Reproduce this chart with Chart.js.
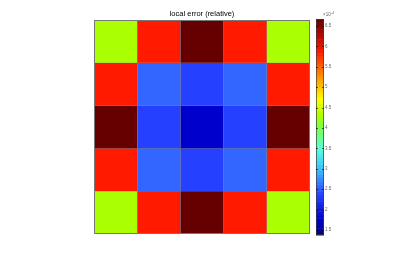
<!DOCTYPE html>
<html>
<head>
<meta charset="utf-8">
<script src="https://cdn.jsdelivr.net/npm/chart.js@4.4.1/dist/chart.umd.min.js"></script>
<style>
html, body { margin: 0; padding: 0; background: #fff; }
#wrap { position: relative; width: 409px; height: 263px; }
</style>
</head>
<body>
<div id="wrap"><canvas id="errChart" width="409" height="263"></canvas></div>
<script>
// local relative error (x 1e-4), rows listed top to bottom
var colLabels = ['1', '2', '3', '4', '5'];
var row1 = [4.3, 5.86, 6.65, 5.86, 4.3];
var row2 = [5.86, 2.58, 2.38, 2.58, 5.86];
var row3 = [6.65, 2.38, 1.79, 2.38, 6.65];
var row4 = [5.86, 2.58, 2.38, 2.58, 5.86];
var row5 = [4.3, 5.86, 6.65, 5.86, 4.3];
var rows = [row1, row2, row3, row4, row5];

// colour axis
var cMin = 1.4;
var cMax = 6.65;
var cStep = 0.5;
var cExponent = '-4';

// jet-like palette, [position 0..1, r, g, b]
var palette = [
	[0.000, 0, 0, 130],
	[0.074, 0, 0, 205],
	[0.187, 38, 64, 255],
	[0.225, 51, 102, 255],
	[0.305, 60, 190, 255],
	[0.400, 90, 255, 220],
	[0.495, 120, 255, 80],
	[0.552, 170, 255, 0],
	[0.629, 255, 255, 0],
	[0.850, 255, 26, 0],
	[1.000, 102, 0, 0]
];

function colormap(t) {
	t = Math.max(0, Math.min(1, t));
	for (var i = 1; i < palette.length; i++) {
		if (t <= palette[i][0]) {
			var a = palette[i - 1], b = palette[i];
			var f = (t - a[0]) / (b[0] - a[0]);
			return 'rgb(' + Math.round(a[1] + (b[1] - a[1]) * f) + ',' +
				Math.round(a[2] + (b[2] - a[2]) * f) + ',' +
				Math.round(a[3] + (b[3] - a[3]) * f) + ')';
		}
	}
	var l = palette[palette.length - 1];
	return 'rgb(' + l[1] + ',' + l[2] + ',' + l[3] + ')';
}

function valueColor(v) {
	return colormap((v - cMin) / (cMax - cMin));
}

var datasets = rows.map(function(r, i) {
	return {
		label: 'row ' + (i + 1),
		data: r.map(function() { return 1; }), // one cell high, colour carries the value
		backgroundColor: r.map(valueColor),
		borderColor: 'rgba(0,0,0,0.3)',
		borderWidth: 0.5,
		borderSkipped: false,
		barPercentage: 1,
		categoryPercentage: 1
	};
});

// frame round the cells + colorbar on the right
var colorbarPlugin = {
	id: 'colorbar',
	afterDraw: function(chart) {
		var ctx = chart.ctx;
		var area = chart.chartArea;
		var cb = chart.scales.cb;
		ctx.save();
		ctx.strokeStyle = '#777';
		ctx.lineWidth = 1;
		ctx.strokeRect(area.left + 0.5, area.top + 0.5, area.right - area.left - 1, area.bottom - area.top - 1);

		var x0 = area.right + 6, w = 8;
		var yTop = cb.getPixelForValue(cMax) - 1;
		var yBot = cb.getPixelForValue(cMin) + 1;
		var n = 64;
		var h = (yBot - yTop) / n;
		for (var k = 0; k < n; k++) {
			ctx.fillStyle = colormap((k + 0.5) / n);
			ctx.fillRect(x0, yBot - (k + 1) * h, w, h + 0.5);
		}
		ctx.strokeStyle = 'rgba(60,60,60,0.7)';
		ctx.strokeRect(x0 + 0.5, yTop + 0.5, w - 1, yBot - yTop - 1);

		ctx.strokeStyle = 'rgba(0,0,0,0.6)';
		cb.ticks.forEach(function(t) {
			var y = Math.round(cb.getPixelForValue(t.value)) + 0.5;
			ctx.beginPath();
			ctx.moveTo(x0, y); ctx.lineTo(x0 + 2, y);
			ctx.moveTo(x0 + w - 2, y); ctx.lineTo(x0 + w, y);
			ctx.stroke();
		});

		ctx.fillStyle = '#666';
		ctx.font = '4.5px "Liberation Sans", Arial, sans-serif';
		ctx.textBaseline = 'alphabetic';
		ctx.fillText('\u00d710', x0 + 7, yTop - 3);
		ctx.font = '3.5px "Liberation Sans", Arial, sans-serif';
		ctx.fillText(cExponent, x0 + 15, yTop - 5);
		ctx.restore();
	}
};

var ctx = document.getElementById('errChart').getContext('2d');
var errChart = new Chart(ctx, {
	type: 'bar',
	data: {
		labels: colLabels,
		datasets: datasets
	},
	options: {
		responsive: false,
		animation: false,
		events: [],
		layout: {
			padding: { left: 94, right: 59, top: 9, bottom: 29 }
		},
		scales: {
			x: { stacked: true, display: false },
			y: { stacked: true, display: false, min: 0, max: 5, reverse: true },
			cb: {
				type: 'linear',
				position: 'right',
				min: cMin,
				max: cMax,
				grid: { display: false, drawTicks: false },
				border: { display: false },
				ticks: {
					stepSize: cStep,
					includeBounds: false,
					padding: 15,
					color: '#666',
					font: { size: 4.5, family: '"Liberation Sans", Arial, sans-serif' },
					callback: function(v) { return String(Math.round(v * 10) / 10); }
				},
				afterFit: function(s) { s.width = 40; }
			}
		},
		plugins: {
			legend: { display: false },
			tooltip: { enabled: false },
			title: {
				display: true,
				text: 'local error (relative)',
				fullSize: false,
				color: '#000',
				padding: { top: 0, bottom: 2 },
				font: { size: 7.5, weight: 'normal', family: '"Liberation Sans", Arial, sans-serif' }
			}
		}
	},
	plugins: [colorbarPlugin]
});
</script>
</body>
</html>
